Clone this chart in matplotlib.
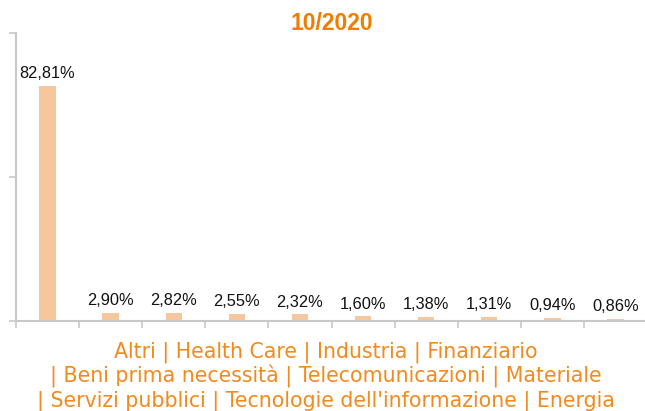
import matplotlib
matplotlib.use("Agg")
import matplotlib.pyplot as plt

categories = ["Altri", "Health Care", "Industria", "Finanziario", "Beni prima necessità",
              "Telecomunicazioni", "Materiale", "Servizi pubblici",
              "Tecnologie dell'informazione", "Energia"]
values = [82.81, 2.90, 2.82, 2.55, 2.32, 1.60, 1.38, 1.31, 0.94, 0.86]
labels = ["82,81%", "2,90%", "2,82%", "2,55%", "2,32%", "1,60%", "1,38%", "1,31%", "0,94%", "0,86%"]
title = "10/2020"
xlabel_lines = ["Altri | Health Care | Industria | Finanziario",
                "| Beni prima necessità | Telecomunicazioni | Materiale",
                "| Servizi pubblici | Tecnologie dell'informazione | Energia"]

W, H = 645, 411
fig = plt.figure(figsize=(W / 100, H / 100), dpi=100)
ax = fig.add_axes([16 / W, (H - 321) / H, (647 - 16) / W, (321 - 33) / H])

x = list(range(len(categories)))
ax.bar(x, values, width=0.26, color="#F6C79D", zorder=2)
for xi, v, lab in zip(x, values, labels):
    ax.annotate(lab, (xi, v), xytext=(0, 3.5), textcoords="offset points",
                ha="center", va="bottom", fontsize=11.8, family=["Liberation Sans"],
                color="#111111")

ax.set_xlim(-0.5, len(categories) - 0.5)
ax.set_ylim(0, 101.5)
ax.set_xticks([i - 0.5 for i in range(len(categories) + 1)])
ax.set_xticklabels([])
ax.set_yticks([0, 50.75, 101.5])
ax.set_yticklabels([])
ax.tick_params(axis="both", direction="out", length=5, width=1.2, color="#C8C8C8")
for s in ["top", "right"]:
    ax.spines[s].set_visible(False)
for s in ["left", "bottom"]:
    ax.spines[s].set_color("#C8C8C8")
    ax.spines[s].set_linewidth(1.5)

fig.text(331.5 / W, 1 - 23 / H, title, ha="center", va="center", fontsize=16.5,
         fontweight="bold", family=["Liberation Sans"], color="#F07D00")

for i, line in enumerate(xlabel_lines):
    fig.text(326 / W, 1 - (352 + 24.5 * i) / H, line, ha="center", va="center",
             fontsize=14.8, family=["DejaVu Sans"], color="#F38A1E")

fig.savefig("out.png", dpi=100)
